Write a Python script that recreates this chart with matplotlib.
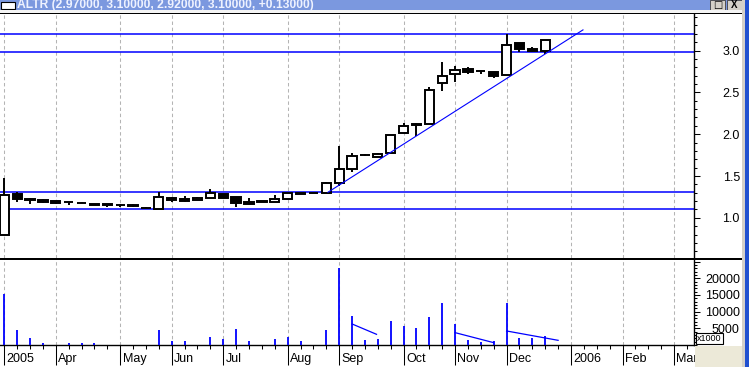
import numpy as np
import matplotlib.pyplot as plt
from matplotlib.patches import Rectangle
from matplotlib.ticker import FixedLocator, MultipleLocator, NullFormatter

plt.rcParams['font.family'] = ['Liberation Sans', 'DejaVu Sans']

title = 'ALTR (2.97000, 3.10000, 2.92000, 3.10000, +0.13000)'

# weekly bars, week 0 = first week of March 2005
weeks = np.arange(43)
opens = [0.80, 1.282, 1.23, 1.214, 1.202, 1.19, 1.18, 1.163, 1.158, 1.152, 1.147,
         1.117, 1.11, 1.238, 1.226, 1.21, 1.234, 1.286, 1.25, 1.194, 1.206,
         1.186, 1.226, 1.30, 1.30, 1.30, 1.414, 1.581, 1.752, 1.732, 1.773,
         2.012, 2.127, 2.12, 2.61, 2.725, 2.785, 2.756, 2.742, 2.706, 3.089,
         3.02, 2.993]
highs = [1.48, 1.306, 1.242, 1.222, 1.202, 1.19, 1.19, 1.163, 1.166, 1.163, 1.166,
         1.13, 1.31, 1.254, 1.266, 1.25, 1.349, 1.29, 1.25, 1.234, 1.206,
         1.27, 1.30, 1.30, 1.30, 1.433, 1.86, 1.773, 1.76, 1.78, 1.988,
         2.135, 2.13, 2.562, 2.861, 2.817, 2.80, 2.756, 2.742, 3.196, 3.089,
         3.044, 3.128]
lows = [0.80, 1.187, 1.17, 1.182, 1.17, 1.158, 1.176, 1.151, 1.127, 1.13, 1.13,
        1.113, 1.11, 1.194, 1.187, 1.21, 1.234, 1.242, 1.13, 1.17, 1.186,
        1.186, 1.226, 1.28, 1.295, 1.30, 1.38, 1.553, 1.737, 1.732, 1.773,
        2.012, 1.98, 2.12, 2.52, 2.63, 2.725, 2.725, 2.677, 2.706, 2.98,
        2.984, 2.957]
closes = [1.27, 1.222, 1.21, 1.194, 1.182, 1.185, 1.176, 1.151, 1.156, 1.15, 1.145,
          1.113, 1.25, 1.21, 1.202, 1.242, 1.294, 1.242, 1.178, 1.17, 1.186,
          1.226, 1.30, 1.29, 1.295, 1.414, 1.585, 1.737, 1.748, 1.761, 1.988,
          2.096, 2.108, 2.526, 2.694, 2.766, 2.749, 2.752, 2.70, 3.065, 3.017,
          3.0, 3.128]
volume = [15300, 4500, 2100, 700, 0, 700, 700, 700, 0, 0, 0, 0, 4500, 1200, 1200,
          0, 2500, 1900, 4800, 1200, 0, 1800, 2500, 1200, 0, 4500, 23150, 8750,
          1500, 1800, 7200, 5700, 5100, 8400, 12600, 6300, 1500, 900, 1200,
          12450, 2100, 2100, 2700]

month_weeks = [0, 4, 9, 13, 17, 22, 26, 31, 35, 39, 44, 48, 52]
month_labels = ['2005', 'Apr', 'May', 'Jun', 'Jul', 'Aug', 'Sep', 'Oct', 'Nov',
                'Dec', '2006', 'Feb', 'Mar']

price_levels = [3.20, 2.98, 1.305, 1.10]
trend_x = [25.13, 44.93]
trend_y = [1.306, 3.247]

# trendlines drawn on the volume pane
vline_sep_x = [27.0, 28.9]
vline_sep_y = [6300, 3200]
vline_nov_x = [35.0, 38.0]
vline_nov_y = [3700, 700]
vline_dec_x = [39.0, 43.0]
vline_dec_y = [4200, 1400]

W, H = 749, 367


def box(x0, y0, x1, y1):
    return [x0 / W, 1 - y1 / H, (x1 - x0) / W, (y1 - y0) / H]


fig = plt.figure(figsize=(W / 100, H / 100), dpi=100)
fig.patch.set_facecolor('white')

ax = fig.add_axes(box(0, 14, 694, 258))
axv = fig.add_axes(box(0, 259, 694, 345))

grid_kw = dict(color='#b4b4b4', lw=0.75, ls=(0, (3.3, 2.6)), zorder=0)
for a in (ax, axv):
    a.set_xlim(-0.334, 53.55)
    for wk in month_weeks:
        a.axvline(wk, **grid_kw)
    a.spines['left'].set_visible(False)
    a.spines['top'].set_visible(False)
    a.spines['right'].set_linewidth(1.0)
    a.yaxis.tick_right()
    a.tick_params(axis='y', which='major', length=4.5, width=0.75, pad=28.5,
                  labelsize=9, colors='black')
    a.tick_params(axis='y', which='minor', length=2.2, width=0.75)

# price pane
ax.spines['bottom'].set_visible(False)
ax.set_ylim(0.52, 3.437)
ax.yaxis.set_major_locator(FixedLocator([1.0, 1.5, 2.0, 2.5, 3.0]))
ax.yaxis.set_minor_locator(MultipleLocator(0.1))
ax.set_yticklabels(['1.0', '1.5', '2.0', '2.5', '3.0'])
ax.set_xticks([])

o = np.array(opens)
c = np.array(closes)
bottoms = np.minimum(o, c)
heights = np.maximum(np.abs(c - o), 0.004)
fills = ['black' if cc < oo else 'white' for oo, cc in zip(o, c)]
ax.vlines(weeks, lows, highs, color='black', lw=1.4, zorder=3)
ax.bar(weeks, heights, bottom=bottoms, width=0.72, color=fills,
       edgecolor='black', linewidth=1.4, zorder=4)

for lvl in price_levels:
    ax.axhline(lvl, color='#0000ff', lw=1.1, zorder=2)
ax.plot(trend_x, trend_y, color='#0000ff', lw=0.8, zorder=5)

# volume pane
axv.set_ylim(0, 25750)
axv.yaxis.set_major_locator(FixedLocator([5000, 10000, 15000, 20000, 25000]))
axv.yaxis.set_minor_locator(MultipleLocator(1000))
axv.set_yticklabels(['5000', '10000', '15000', '20000', ''])
axv.vlines(weeks, 0, volume, color='#0000ff', lw=1.3, zorder=3)
for xs, ys in ((vline_sep_x, vline_sep_y), (vline_nov_x, vline_nov_y),
               (vline_dec_x, vline_dec_y)):
    axv.plot(xs, ys, color='#0000ff', lw=0.9, zorder=3)

axv.spines['bottom'].set_linewidth(1.0)
axv.xaxis.set_major_locator(FixedLocator(month_weeks))
axv.xaxis.set_minor_locator(FixedLocator(np.arange(54)))
axv.xaxis.set_major_formatter(NullFormatter())
axv.tick_params(axis='x', which='major', length=14.5, width=0.75)
axv.tick_params(axis='x', which='minor', length=3, width=0.75)
for for_wk, lab in zip(month_weeks, month_labels):
    axv.annotate(lab, xy=(for_wk, 0), xycoords=('data', 'axes fraction'),
                 xytext=(1.7, -12.5), textcoords='offset points',
                 ha='left', va='baseline', fontsize=9, annotation_clip=False)

for a in (ax, axv):
    for lab in a.get_yticklabels():
        lab.set_horizontalalignment('right')


def frect(x0, y0, x1, y1, fc, ec='none', lw=0, z=5):
    r = Rectangle((x0 / W, 1 - y1 / H), (x1 - x0) / W, (y1 - y0) / H,
                  transform=fig.transFigure, facecolor=fc, edgecolor=ec,
                  linewidth=lw, zorder=z)
    fig.add_artist(r)


# window chrome
frect(0, 0, 742, 10, '#7b98df')
frect(0.5, 1.7, 15, 9.3, 'white', 'black', 0.8)
frect(710, 0, 725, 10, '#d4d0c8', '#404040', 0.6)
frect(726.5, 0, 741.5, 10, '#d4d0c8', '#404040', 0.6)
fig.text(717.5 / W, 1 - 5 / H, '\u25a1', ha='center', va='center', fontsize=7,
         family=['DejaVu Sans'], zorder=6)
fig.text(734 / W, 1 - 5 / H, 'X', ha='center', va='center', fontsize=7,
         weight='bold', zorder=6)
fig.text(17 / W, 1 - 5 / H, title, ha='left', va='center', fontsize=8.7,
         weight='bold', color='#eef2ff', zorder=6)
frect(0, 10, 742, 12.7, '#f4f4f4')
frect(0, 12.7, 742, 14.3, 'black')
frect(0, 258.3, 742, 260, 'black')
frect(694.5, 346, 742, 367, '#ece9d8')
frect(742, 0, 745, 367, '#d4d0c8')
frect(745, 0, 749, 367, '#2050d0')

# volume multiplier box
frect(696, 332.7, 723.3, 343.7, 'white', 'black', 0.8, z=6)
fig.text(709.6 / W, 1 - 338.5 / H, 'x1000', ha='center', va='center',
         fontsize=6.5, zorder=7)

fig.savefig('out.png', dpi=100)
